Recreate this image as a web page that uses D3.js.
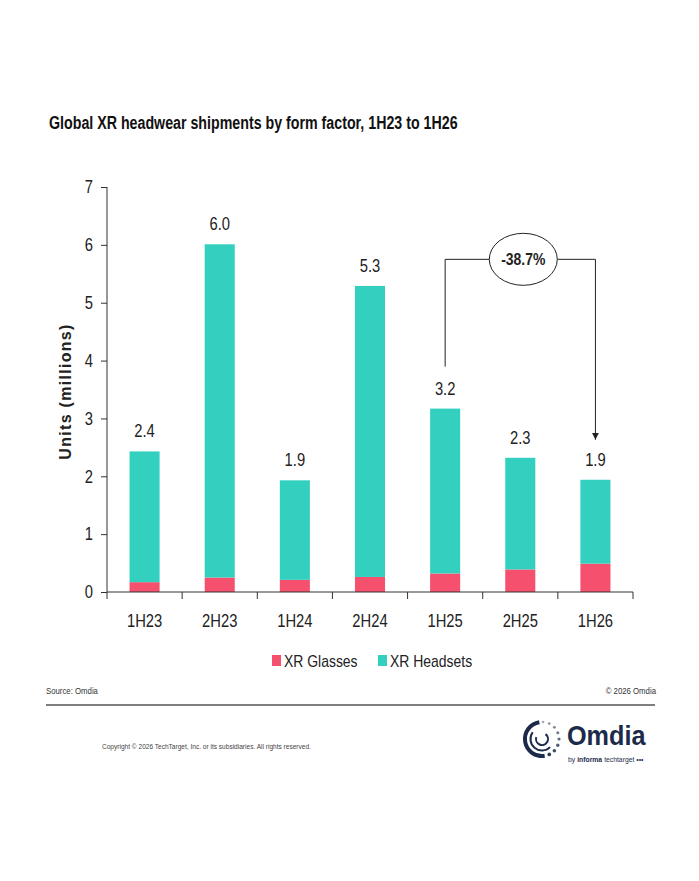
<!DOCTYPE html>
<html>
<head>
<meta charset="utf-8">
<script src="https://cdn.jsdelivr.net/npm/d3@7"></script>
<style>
  body { margin: 0; background: #fff; }
  text { font-family: "Liberation Sans", Arial, sans-serif; }
</style>
</head>
<body>
<div id="chart"></div>
<script>
// data
const periods = ["1H23", "2H23", "1H24", "2H24", "1H25", "2H25", "1H26"];
const glasses = [0.17, 0.25, 0.21, 0.26, 0.32, 0.39, 0.49];
const headsets = [2.26, 5.76, 1.72, 5.03, 2.85, 1.93, 1.45];
const seriesNames = ["XR Glasses", "XR Headsets"];
const yTicks = [0, 1, 2, 3, 4, 5, 6, 7];
const changeLabel = "-38.7%";

const width = 699;
const height = 881;
const margin = { top: 187, bottom: 289, left: 107, right: 66 };
const colors = { "XR Glasses": "#f5506e", "XR Headsets": "#33d0c0" };

// no narrow font installed, so squeeze the glyphs of a text horizontally
function narrow(sel, k = 0.82) {
    sel.each(function () {
        const w = this.getComputedTextLength();
        d3.select(this).attr("textLength", w * k).attr("lengthAdjust", "spacingAndGlyphs");
    });
}

const svg = d3.select("div#chart")
    .append("svg")
    .attr("width", width)
    .attr("height", height);

svg.append("rect").attr("width", width).attr("height", height).attr("fill", "#fff");

// title
svg.append("text")
    .attr("x", 49)
    .attr("y", 129)
    .attr("font-size", 18)
    .attr("font-weight", "bold")
    .attr("fill", "#111")
    .text("Global XR headwear shipments by form factor, 1H23 to 1H26")
    .call(narrow, 0.79);

const x = d3.scaleBand()
    .domain(periods)
    .range([margin.left, width - margin.right])
    .paddingInner(0.6)
    .paddingOuter(0.3);

const y = d3.scaleLinear()
    .domain([0, 7])
    .range([height - margin.bottom, margin.top]);

const rows = periods.map((p, i) => ({ period: p, "XR Glasses": glasses[i], "XR Headsets": headsets[i] }));
const stacked = d3.stack().keys(seriesNames)(rows);

const bars = svg.append("g").attr("class", "bars");
bars.selectAll("g")
    .data(stacked)
    .join("g")
    .attr("fill", d => colors[d.key])
    .selectAll("rect")
    .data(d => d)
    .join("rect")
    .attr("x", d => x(d.data.period))
    .attr("width", x.bandwidth())
    .attr("y", d => y(d[1]))
    .attr("height", d => y(d[0]) - y(d[1]));

// totals
const totals = periods.map((p, i) => glasses[i] + headsets[i]);
svg.append("g").selectAll("text")
    .data(periods)
    .join("text")
    .attr("x", d => x(d) + x.bandwidth() / 2)
    .attr("y", (d, i) => y(totals[i]) - 14)
    .attr("text-anchor", "middle")
    .attr("font-size", 18)
    .attr("fill", "#222")
    .text((d, i) => d3.format(".1f")(totals[i]))
    .call(narrow);

// axes
const yAxis = d3.axisLeft(y).tickValues(yTicks).tickFormat(d3.format("d")).tickSize(6).tickPadding(8);
const yAxisGroup = svg.append("g")
    .attr("transform", `translate(${margin.left},0)`)
    .call(yAxis);
yAxisGroup.selectAll("text").attr("font-size", 18).attr("fill", "#222").call(narrow);
yAxisGroup.selectAll("line, path").attr("stroke", "#333");
yAxisGroup.select(".domain").attr("d", `M0,${y(7)}V${y(0)}`);

const xAxisGroup = svg.append("g")
    .attr("transform", `translate(0,${y(0)})`)
    .call(d3.axisBottom(x).tickSize(0).tickPadding(22));
xAxisGroup.select(".domain").attr("stroke", "#333").attr("d", `M${margin.left},0H${width - margin.right}`);
xAxisGroup.selectAll("text").attr("font-size", 18).attr("fill", "#222").call(narrow);

// category boundary ticks
const step = x.step();
svg.append("g").selectAll("line")
    .data(d3.range(periods.length + 1))
    .join("line")
    .attr("x1", d => margin.left + d * step)
    .attr("x2", d => margin.left + d * step)
    .attr("y1", y(0))
    .attr("y2", y(0) + 7)
    .attr("stroke", "#333");

// y label
svg.append("text")
    .attr("transform", `translate(71,${(y(0) + y(7)) / 2 + 2}) rotate(-90)`)
    .attr("text-anchor", "middle")
    .attr("font-size", 16)
    .attr("font-weight", "bold")
    .attr("letter-spacing", 1.3)
    .attr("fill", "#222")
    .text("Units (millions)");

// change annotation
const xa = x("1H25") + x.bandwidth() / 2;
const xb = x("1H26") + x.bandwidth() / 2;
const topY = y(5.75);
const ex = (xa + xb) / 2 + 3;
const rx = 34, ry = 26;

svg.append("defs").append("marker")
    .attr("id", "arrow")
    .attr("viewBox", "0 0 10 10")
    .attr("refX", 10)
    .attr("refY", 5)
    .attr("markerWidth", 7)
    .attr("markerHeight", 7)
    .attr("orient", "auto")
    .append("path")
    .attr("d", "M0,0L10,5L0,10z")
    .attr("fill", "#222");

const ann = svg.append("g").attr("fill", "none").attr("stroke", "#222").attr("stroke-width", 1);
ann.append("path").attr("d", `M${xa},${y(totals[4]) - 42}V${topY}H${ex - rx}`);
ann.append("path")
    .attr("d", `M${ex + rx},${topY}H${xb}V${y(totals[6]) - 40}`)
    .attr("marker-end", "url(#arrow)");
ann.append("ellipse").attr("cx", ex).attr("cy", topY).attr("rx", rx).attr("ry", ry).attr("fill", "#fff");
svg.append("text")
    .attr("x", ex)
    .attr("y", topY + 6)
    .attr("text-anchor", "middle")
    .attr("font-size", 17)
    .attr("font-weight", "bold")
    .attr("fill", "#222")
    .text(changeLabel)
    .call(narrow);

// legend
const legend = svg.append("g").attr("transform", "translate(272,655)");
const legendX = [0, 106];
seriesNames.forEach((s, i) => {
    const g = legend.append("g").attr("transform", `translate(${legendX[i]},0)`);
    g.append("rect").attr("width", 9).attr("height", 11).attr("fill", colors[s]);
    g.append("text").attr("x", 12).attr("y", 11.5).attr("font-size", 17).attr("fill", "#222").text(s).call(narrow);
});

// footer
svg.append("text").attr("x", 46).attr("y", 694).attr("font-size", 9.5).attr("fill", "#333").text("Source: Omdia").call(narrow);
svg.append("text").attr("x", 656).attr("y", 694).attr("text-anchor", "end").attr("font-size", 9.5).attr("fill", "#333").text("© 2026 Omdia").call(narrow);
svg.append("line").attr("x1", 46).attr("x2", 655).attr("y1", 705).attr("y2", 705).attr("stroke", "#555").attr("stroke-width", 1.5);
svg.append("text").attr("x", 102).attr("y", 749).attr("font-size", 7.8).attr("fill", "#444")
    .text("Copyright © 2026 TechTarget, Inc. or its subsidiaries. All rights reserved.")
    .call(narrow, 0.84);

// logo
const navy = "#1c2b4a";
const logo = svg.append("g").attr("transform", "translate(542,739)");
const arc = d3.arc();
logo.append("path").attr("fill", navy)
    .attr("d", arc({ innerRadius: 15, outerRadius: 19, startAngle: Math.PI * 0.95, endAngle: Math.PI * 1.95 }));
logo.append("path").attr("fill", navy)
    .attr("d", arc({ innerRadius: 10.5, outerRadius: 12.5, startAngle: Math.PI * 0.75, endAngle: Math.PI * 1.7 }));
logo.append("path").attr("fill", navy)
    .attr("d", arc({ innerRadius: 5, outerRadius: 7, startAngle: Math.PI * 0.2, endAngle: Math.PI * 1.6 }));
logo.append("g").selectAll("circle")
    .data(d3.range(9))
    .join("circle")
    .attr("cx", d => 17 * Math.sin(-0.1 * Math.PI + d * 0.12 * Math.PI))
    .attr("cy", d => -17 * Math.cos(-0.1 * Math.PI + d * 0.12 * Math.PI))
    .attr("r", d => 1.2 + d * 0.08)
    .attr("fill", navy)
    .attr("opacity", d => 0.35 + d * 0.07);
svg.append("text").attr("x", 567).attr("y", 745).attr("font-size", 28).attr("font-weight", "bold").attr("fill", navy)
    .text("Omdia").call(narrow, 0.9);

// "by informa techtarget" line, one text per piece
const byParts = [["by", "normal"], ["informa", "bold"], ["techtarget •••", "normal"]];
let bx = 568;
byParts.forEach(([t, w]) => {
    const el = svg.append("text").attr("x", bx).attr("y", 762).attr("font-size", 8)
        .attr("font-weight", w).attr("fill", navy).text(t).call(narrow, 0.85);
    bx += el.node().getComputedTextLength() + 2;
});
</script>
</body>
</html>
